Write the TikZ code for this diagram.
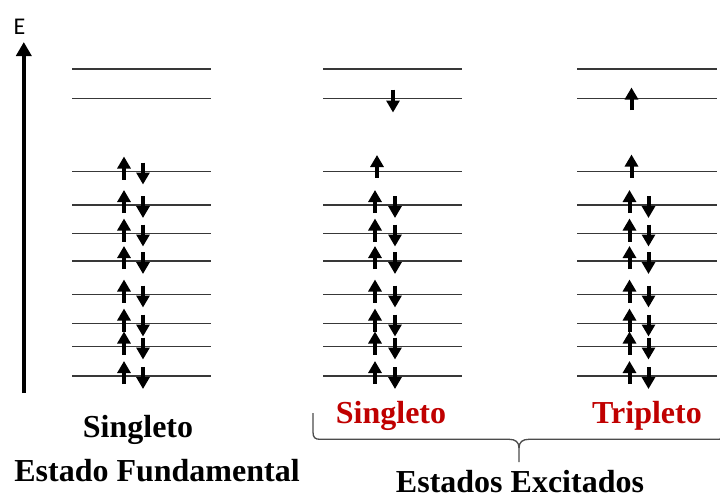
\documentclass[tikz,border=0pt]{standalone}
\usepackage{fontspec}
\setmainfont{Liberation Serif}
\newfontfamily\axisfont{Carlito}
\usetikzlibrary{arrows.meta}
\definecolor{spinred}{RGB}{192,0,0}
\tikzset{
  level/.style={line width=1.9pt, draw=black!78},
  spinup/.style={line width=4pt, -{Triangle[width=13pt,length=12pt]}},
  spindown/.style={line width=4pt, -{Triangle[width=13pt,length=12pt]}},
  axis/.style={line width=4pt, -{Triangle[width=15pt,length=14pt]}},
  brace/.style={line width=1.3pt, draw=black!70},
  label/.style={font=\fontsize{32}{32}\selectfont\bfseries, anchor=base, inner sep=0pt},
}
\begin{document}
\begin{tikzpicture}[x=1pt, y=-1pt]
  \clip (0,0) rectangle (720,499);
  \fill[white] (0,0) rectangle (720,499);

  % energy axis
  \coordinate (axbot) at (23.8,393);
  \coordinate (axtop) at (23.8,42);
  \draw[axis] (axbot) -- (axtop);
  \node[font=\axisfont\fontsize{24}{24}\selectfont, anchor=base, inner sep=0pt] (E) at (19.5,34) {E};

  % energy levels of the three configurations
  \foreach \xl/\xr in {72/211, 323/462, 577/716.5} {
    \foreach \y in {69, 98.5, 171.5, 205, 233.5, 261, 294.5, 323.5, 346.5, 376}
      \draw[level] (\xl,\y) -- (\xr,\y);
  }

  % doubly occupied levels
  \foreach \xu/\xd in {124/143, 375/395, 629.5/648.5} {
    \foreach \y in {205, 233.5, 261, 294.5, 323.5, 346.5, 376} {
      \draw[spinup] (\xu,\y+8) -- (\xu,\y-15);
      \draw[spindown] (\xd,\y-9) -- (\xd,\y+13);
    }
  }

  % ground state HOMO: paired electrons
  \draw[spinup] (124,171.5+8) -- (124,171.5-15);
  \draw[spindown] (143,171.5-9) -- (143,171.5+13);

  % excited singlet: antiparallel unpaired electrons
  \draw[spindown] (393,98.5-9) -- (393,98.5+14);
  \draw[spinup] (377,171.5+6) -- (377,171.5-16.5);

  % excited triplet: parallel unpaired electrons
  \draw[spinup] (631.5,98.5+11.5) -- (631.5,98.5-11);
  \draw[spinup] (631.5,171.5+6) -- (631.5,171.5-17);

  % labels
  \node[label] (gs) at (138,437) {Singleto};
  \node[label] (gsname) at (157,481.5) {Estado Fundamental};
  \node[label, text=spinred] (es1) at (391,423) {Singleto};
  \node[label, text=spinred] (es3) at (647,423) {Tripleto};
  \node[label] (esname) at (520,492.3) {Estados Excitados};

  % brace grouping the excited states
  \draw[brace] (313,413) -- (313,432)
    .. controls (313,437.5) and (315,439.3) .. (320,439.3) -- (509,439.3)
    .. controls (515.5,439.3) and (519,442) .. (519,448) -- (519,462);
  \draw[brace] (725,413) -- (725,432)
    .. controls (725,437.5) and (723,439.3) .. (718,439.3) -- (529,439.3)
    .. controls (522.5,439.3) and (519,442) .. (519,448);
\end{tikzpicture}
\end{document}
